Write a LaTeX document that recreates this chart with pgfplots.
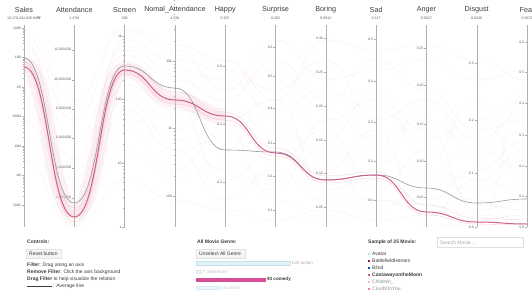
\documentclass[border=0pt]{standalone}
\usepackage{pgfplots}
\pgfplotsset{compat=1.18}
\usepackage{fontspec}
\setmainfont{Liberation Sans}
\newfontfamily\dejavu{DejaVu Sans}
% parallel-coordinate curve: horizontal tangent at every axis
\makeatletter
\newif\ifhc@first
\newdimen\hc@lx \newdimen\hc@ly
\def\hc@point#1{%
    \pgf@process{#1}%
    \ifhc@first
      \global\hc@firstfalse
      \global\hc@lx=\pgf@x \global\hc@ly=\pgf@y
      \pgf@plot@first@action{\pgfqpoint{\hc@lx}{\hc@ly}}%
    \else
      \pgf@xa=\pgf@x \pgf@ya=\pgf@y
      \pgf@xb=\pgf@xa \advance\pgf@xb by -\hc@lx \pgf@xb=0.5\pgf@xb
      \pgf@xc=\hc@lx \advance\pgf@xc by \pgf@xb
      \edef\hc@cA{\noexpand\pgfqpoint{\the\pgf@xc}{\the\hc@ly}}%
      \pgf@xc=\pgf@xa \advance\pgf@xc by -\pgf@xb
      \edef\hc@cB{\noexpand\pgfqpoint{\the\pgf@xc}{\the\pgf@ya}}%
      \edef\hc@cC{\noexpand\pgfqpoint{\the\pgf@xa}{\the\pgf@ya}}%
      \global\hc@lx=\pgf@xa \global\hc@ly=\pgf@ya
      \pgfpathcurveto{\hc@cA}{\hc@cB}{\hc@cC}%
    \fi}
\pgfdeclareplothandler{\pgfplothandlerhcurve}{}{%
  start={\global\hc@firsttrue},
  point={\hc@point{##1}},
  jump={\global\hc@firsttrue},
  end={}
}
\tikzset{hcurve/.code={\let\tikz@plot@handler=\pgfplothandlerhcurve}}
\makeatother
\definecolor{avg}{RGB}{206,96,142}
\definecolor{avgband}{RGB}{244,200,214}
\definecolor{sel}{RGB}{150,150,162}
\definecolor{axgray}{RGB}{175,175,175}
\definecolor{tickgray}{RGB}{90,90,90}
\definecolor{bgpink}{RGB}{235,150,175}
\definecolor{bgbeige}{RGB}{230,200,150}
\definecolor{bggray}{RGB}{175,175,190}
\definecolor{txt}{RGB}{60,60,60}
\definecolor{faint}{RGB}{185,185,185}
\definecolor{actionc}{RGB}{226,243,248}
\definecolor{actionb}{RGB}{195,225,235}
\definecolor{comedyc}{RGB}{214,78,150}
\definecolor{crimec}{RGB}{215,235,248}
\newcommand\tsz{\fontsize{3.4}{4}\selectfont}
\newcommand\gsz{\fontsize{4.6}{5}\selectfont}
\newcommand\tl[3]{\draw[axgray,line width=0.3pt] (#1-2.2,-#2) -- (#1,-#2); \node[left,inner sep=0.6pt,text=tickgray,font=\tsz] at (#1-2.2,-#2) {#3};}
\newcommand\hd[3]{\node[text=txt,font=\fontsize{7.2}{8}\selectfont] at (#1,-10) {#2}; \node[text=tickgray,font=\fontsize{3.6}{4}\selectfont] at (#1,-18.5) {#3};}
\begin{document}
\begin{tikzpicture}[x=1pt,y=1pt]
\useasboundingbox (0,0) rectangle (532,-294);
% axis lines
\foreach \xx in {24,74.3,124.6,174.9,225.2,275.5,325.8,376.1,426.4,476.7,527}{
  \draw[axgray,line width=0.35pt] (\xx,-25) -- (\xx,-227);
}
% minor ticks on log axes
\foreach \k in {2,...,9}{
  \pgfmathsetmacro\off{log10(\k)}
  \foreach \base in {227,163.3,99.6}{
    \draw[axgray,line width=0.2pt] (124.6-1.3,-\base+63.7*\off) -- (124.6,-\base+63.7*\off);}
  \foreach \base in {196,128.5,61}{
    \draw[axgray,line width=0.2pt] (174.9-1.3,-\base+67.5*\off) -- (174.9,-\base+67.5*\off);}
  \foreach \base in {205,175.5,146,116.5,87,57.5}{
    \draw[axgray,line width=0.2pt] (24-1.3,-\base+29.5*\off) -- (24,-\base+29.5*\off);}
}
% headers
\hd{24}{Sales}{10,170,432,626.84{\dejavu ₩}}
\hd{74.3}{Attendance}{1.47M}
\hd{124.6}{Screen}{330}
\hd{174.9}{Nomal\_Attendance}{4.03k}
\hd{225.2}{Happy}{0.307}
\hd{275.5}{Surprise}{0.262}
\hd{325.8}{Boring}{0.0912}
\hd{376.1}{Sad}{0.147}
\hd{426.4}{Anger}{0.0627}
\hd{476.7}{Disgust}{0.0436}
\hd{527}{Fear}{0.0879}
% tick labels
\tl{24}{28}{100B}\tl{24}{57.5}{10B}\tl{24}{87}{1B}\tl{24}{116.5}{100M}\tl{24}{146}{10M}\tl{24}{175.5}{1M}\tl{24}{205}{100K}
\tl{74.3}{50}{12,000,000}\tl{74.3}{80}{10,000,000}\tl{74.3}{109}{8,000,000}\tl{74.3}{138}{6,000,000}\tl{74.3}{168}{4,000,000}\tl{74.3}{198}{2,000,000}
\tl{124.6}{35.9}{1k}\tl{124.6}{99.6}{100}\tl{124.6}{163.3}{10}\tl{124.6}{227}{1}
\tl{174.9}{61}{10k}\tl{174.9}{128.5}{1k}\tl{174.9}{196}{100}
\tl{225.2}{66}{0.6}\tl{225.2}{124}{0.4}\tl{225.2}{182}{0.2}
\tl{275.5}{47}{0.6}\tl{275.5}{76}{0.5}\tl{275.5}{108}{0.4}\tl{275.5}{143}{0.3}\tl{275.5}{176}{0.2}\tl{275.5}{210}{0.1}
\tl{325.8}{38}{0.30}\tl{325.8}{72}{0.25}\tl{325.8}{106}{0.20}\tl{325.8}{140}{0.15}\tl{325.8}{173}{0.10}\tl{325.8}{207}{0.05}
\tl{376.1}{39}{0.5}\tl{376.1}{81}{0.4}\tl{376.1}{122}{0.3}\tl{376.1}{161}{0.2}\tl{376.1}{200}{0.1}
\tl{426.4}{48}{0.25}\tl{426.4}{85}{0.20}\tl{426.4}{124}{0.15}\tl{426.4}{161}{0.10}\tl{426.4}{197}{0.05}
\tl{476.7}{63}{0.3}\tl{476.7}{120}{0.2}\tl{476.7}{173}{0.1}\tl{476.7}{227}{0.0}
\tl{527}{42}{0.6}\tl{527}{72}{0.5}\tl{527}{103}{0.4}\tl{527}{135}{0.3}\tl{527}{166}{0.2}\tl{527}{196}{0.1}\tl{527}{227}{0.0}
\begin{axis}[at={(24pt,-227pt)}, anchor=south west, scale only axis, width=503pt, height=202pt,
  xmin=0, xmax=10, ymin=25, ymax=227, y dir=reverse, axis lines=none, clip=false]
% background movies (positions along each axis, px from top)
\addplot[bgpink,opacity=0.16,line width=0.4pt,hcurve] coordinates {(0,40)(1,190)(2,40)(3,60)(4,70)(5,90)(6,60)(7,120)(8,100)(9,140)(10,110)};
\addplot[bgbeige,opacity=0.16,line width=0.4pt,hcurve] coordinates {(0,90)(1,170)(2,90)(3,120)(4,150)(5,80)(6,140)(7,90)(8,160)(9,100)(10,180)};
\addplot[bggray,opacity=0.16,line width=0.4pt,hcurve] coordinates {(0,120)(1,225)(2,110)(3,150)(4,200)(5,170)(6,200)(7,200)(8,210)(9,220)(10,215)};
\addplot[bgpink,opacity=0.16,line width=0.4pt,hcurve] coordinates {(0,55)(1,160)(2,55)(3,80)(4,100)(5,60)(6,100)(7,60)(8,90)(9,130)(10,120)};
\addplot[bgbeige,opacity=0.16,line width=0.4pt,hcurve] coordinates {(0,75)(1,210)(2,60)(3,95)(4,60)(5,120)(6,160)(7,150)(8,180)(9,190)(10,160)};
\addplot[bggray,opacity=0.16,line width=0.4pt,hcurve] coordinates {(0,100)(1,200)(2,100)(3,140)(4,170)(5,190)(6,120)(7,100)(8,130)(9,210)(10,200)};
\addplot[bgpink,opacity=0.16,line width=0.4pt,hcurve] coordinates {(0,35)(1,120)(2,30)(3,50)(4,90)(5,40)(6,80)(7,70)(8,60)(9,80)(10,70)};
\addplot[bgbeige,opacity=0.16,line width=0.4pt,hcurve] coordinates {(0,140)(1,222)(2,130)(3,170)(4,130)(5,200)(6,220)(7,210)(8,190)(9,200)(10,225)};
\addplot[bggray,opacity=0.16,line width=0.4pt,hcurve] coordinates {(0,65)(1,215)(2,85)(3,110)(4,120)(5,100)(6,190)(7,180)(8,200)(9,170)(10,140)};
\addplot[bgpink,opacity=0.16,line width=0.4pt,hcurve] coordinates {(0,80)(1,205)(2,75)(3,105)(4,180)(5,150)(6,170)(7,130)(8,225)(9,226)(10,90)};
\addplot[bgbeige,opacity=0.16,line width=0.4pt,hcurve] coordinates {(0,50)(1,180)(2,45)(3,75)(4,110)(5,130)(6,150)(7,160)(8,170)(9,180)(10,190)};
\addplot[bggray,opacity=0.16,line width=0.4pt,hcurve] coordinates {(0,160)(1,226)(2,180)(3,200)(4,210)(5,220)(6,210)(7,220)(8,215)(9,180)(10,150)};
\addplot[bgpink,opacity=0.16,line width=0.4pt,hcurve] coordinates {(0,30)(1,100)(2,28)(3,45)(4,60)(5,100)(6,40)(7,50)(8,45)(9,60)(10,80)};
\addplot[bgbeige,opacity=0.16,line width=0.4pt,hcurve] coordinates {(0,95)(1,218)(2,120)(3,130)(4,90)(5,70)(6,110)(7,140)(8,120)(9,150)(10,170)};
\addplot[bgpink,opacity=0.16,line width=0.4pt,hcurve] coordinates {(0,60)(1,195)(2,65)(3,90)(4,140)(5,160)(6,130)(7,190)(8,150)(9,205)(10,210)};
\addplot[bggray,opacity=0.13,line width=0.4pt,hcurve] coordinates {(0,45)(1,140)(2,50)(3,70)(4,80)(5,110)(6,90)(7,110)(8,140)(9,120)(10,100)};
\addplot[bgbeige,opacity=0.13,line width=0.4pt,hcurve] coordinates {(0,110)(1,224)(2,150)(3,180)(4,160)(5,180)(6,180)(7,170)(8,100)(9,160)(10,130)};
\addplot[bgpink,opacity=0.13,line width=0.4pt,hcurve] coordinates {(0,70)(1,212)(2,72)(3,100)(4,125)(5,140)(6,175)(7,200)(8,205)(9,215)(10,220)};
% confidence band around the average
\addplot[avgband,opacity=0.22,line width=16pt,hcurve] coordinates {(0,65)(1,212)(2,70)(3,100)(4,116)};
\addplot[avgband,opacity=0.25,line width=7pt,hcurve] coordinates {(0,65)(1,214)(2,70)(3,100)(4,116)};
% close neighbours of the average
\addplot[avg!55,opacity=0.5,line width=0.35pt,hcurve] coordinates {(0,58)(1,208)(2,64)(3,92)(4,112)(5,148)(6,176)(7,172)(8,205)(9,218)(10,220)};
\addplot[red!60,opacity=0.35,line width=0.35pt,hcurve] coordinates {(0,62)(1,222)(2,74)(3,104)(4,120)(5,156)(6,183)(7,178)(8,215)(9,224)(10,225)};
% selected movie
\addplot[sel,line width=0.6pt,hcurve] coordinates {(0,58)(1,203)(2,66)(3,88)(4,150)(5,152)(6,180)(7,175)(8,188)(9,203)(10,199)};
% average line
\addplot[avg,line width=1.0pt,hcurve] coordinates {(0,67)(1,217)(2,70)(3,100)(4,116)(5,153)(6,180)(7,175)(8,212)(9,222)(10,224)};
\end{axis}
% ---------- controls panel ----------
\begin{scope}[every node/.style={anchor=west,inner sep=0pt,text=txt,font=\fontsize{5}{6}\selectfont}]
\node at (27,-242) {\bfseries Controls:};
\draw[faint,fill=black!4,line width=0.3pt,rounded corners=0.8pt] (26,-249.5) rectangle (62,-258.5);
\node at (29,-254) {Reset button};
\node at (27,-265) {\bfseries Filter\mdseries: Drag along an axis};
\node at (27,-272) {\bfseries Remove Filter\mdseries: Click the axis background};
\node at (27,-279) {\bfseries Drag Filter\mdseries{} to help visualize the relation};
\draw[txt,line width=0.5pt] (27,-286) -- (52,-286);
\node at (53,-286) {: Average line};
% genre panel
\node at (197,-242) {\bfseries All Movie Genre:};
\draw[faint,fill=black!4,line width=0.3pt,rounded corners=0.8pt] (196,-249.5) rectangle (246,-258.5);
\node at (199,-254) {Unselect All Genre};
% movie panel
\node at (368,-242) {\bfseries Sample of 25 Movie:};
\draw[black!12,line width=0.4pt] (437,-237) rectangle (523,-247.5);
\node[text=black!35] at (440,-242.3) {Search Movie...};
\fill[cyan!35] (367.5,-252.8) rectangle (369.9,-255.2); \node at (372,-254) {Avatar};
\fill[red!65!black!90] (367.5,-259.8) rectangle (369.9,-262.2); \node at (372,-261) {BattlefieldHeroes};
\fill[blue!60!cyan!80!black] (367.5,-266.8) rectangle (369.9,-269.2); \node at (372,-268) {Blind};
\fill[comedyc] (367.5,-273.8) rectangle (369.9,-276.2); \node at (372,-275) {\bfseries CastawayontheMoon};
\fill[magenta!30] (367.5,-280.8) rectangle (369.9,-283.2); \node[text=black!45] at (372,-282) {Children\_};
\fill[magenta!55] (367.5,-287.8) rectangle (369.9,-290.2); \node[text=black!45] at (372,-289) {CrushOnYou};
\end{scope}
% genre bars
\begin{axis}[at={(196pt,-292pt)}, anchor=south west, scale only axis, width=94pt, height=33pt,
  xmin=0, xmax=126, ymin=-0.5, ymax=3.5, y dir=reverse, axis lines=none, clip=false,
  xbar, bar width=3.4pt, bar shift=0pt]
\addplot[draw=actionb,fill=actionc,line width=0.3pt] coordinates {(126,0)};
\addplot[draw=black!10,fill=black!4,line width=0.3pt] coordinates {(7,1)};
\addplot[draw=comedyc,fill=comedyc,line width=0.3pt] coordinates {(93,2)};
\addplot[draw=crimec,fill=crimec!50,line width=0.3pt] coordinates {(33,3)};
\node[right,text=black!30,font=\gsz,inner sep=1.5pt] at (axis cs:126,0) {126 action};
\node[right,text=black!25,font=\gsz,inner sep=1.5pt] at (axis cs:7,1) {7 adventure};
\node[right,text=txt,font=\gsz\bfseries,inner sep=1.5pt] at (axis cs:93,2) {93 comedy};
\node[right,text=cyan!30!black!30,font=\gsz,inner sep=1.5pt] at (axis cs:33,3) {33 crime};
\end{axis}
\end{tikzpicture}
\end{document}
